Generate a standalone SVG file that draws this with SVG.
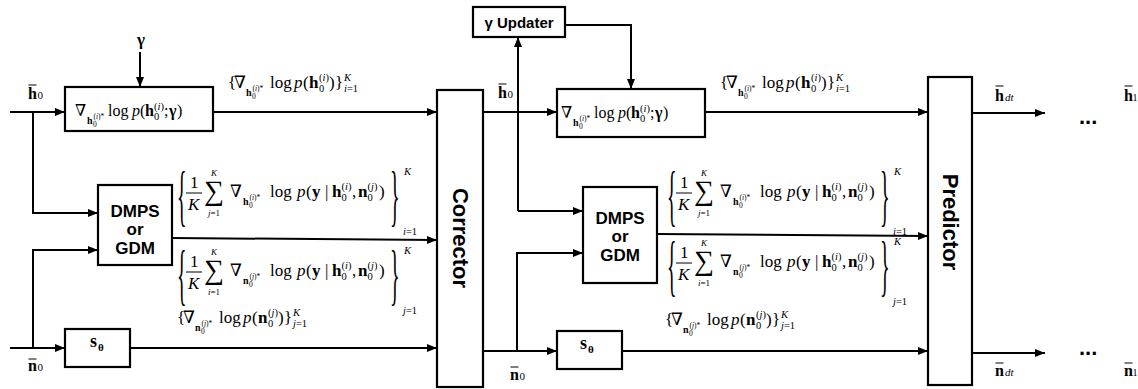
<svg xmlns="http://www.w3.org/2000/svg" xmlns:xlink="http://www.w3.org/1999/xlink" width="1138" height="389" viewBox="0 0 1138 389">
<style>
.ln{stroke:#000;stroke-width:2;fill:none}
.bx{stroke:#000;stroke-width:2.2;fill:#fff}
.fb{stroke:#000;stroke-width:1}
.m{font-family:"Liberation Serif","DejaVu Serif",serif;font-size:16px;fill:#000}
.m17{font-size:17px}
.b{font-weight:bold}
.i{font-style:italic}
.s{font-size:10.5px}
.st{font-size:10px}
.t{font-size:7.5px}
.lim{font-size:9px}
.sum{font-size:28px}
.br{font-size:20px}
.u{font-family:"Liberation Sans","Noto Sans",sans-serif;font-weight:bold;fill:#000}
</style>
<defs>
<marker id="ah" viewBox="0 0 10 10" refX="10" refY="5" markerWidth="10" markerHeight="10" markerUnits="userSpaceOnUse" orient="auto">
<path d="M0,1 L10,5 L0,9 z" fill="#000"/>
</marker>
<g id="f1">
<text class="m"><tspan x="0" y="0">∇</tspan><tspan class="b st" x="12" y="8">h</tspan><tspan class="t" x="18" y="11">0</tspan><tspan class="t" x="18.5" y="3">(<tspan class="i">i</tspan>)*</tspan><tspan x="33" y="0">log</tspan><tspan class="i" x="57">p</tspan><tspan x="65">(</tspan><tspan class="b" x="70">h</tspan><tspan class="s" x="79" y="-6">(<tspan class="i">i</tspan>)</tspan><tspan class="s" x="79" y="4">0</tspan><tspan x="89" y="0">;</tspan><tspan class="b" x="94">γ</tspan><tspan x="102">)</tspan></text>
</g>
<g id="f2">
<text class="m m17"><tspan x="0" y="0">{</tspan><tspan x="6">∇</tspan><tspan class="b st" x="18" y="8">h</tspan><tspan class="t" x="24" y="11">0</tspan><tspan class="t" x="24.5" y="3">(<tspan class="i">i</tspan>)*</tspan><tspan x="42" y="0">log</tspan><tspan class="i" x="66">p</tspan><tspan x="75">(</tspan><tspan class="b" x="81">h</tspan><tspan class="s" x="91" y="-7">(<tspan class="i">i</tspan>)</tspan><tspan class="s" x="91" y="4">0</tspan><tspan x="101" y="0">)</tspan><tspan x="107">}</tspan><tspan class="s i" x="116" y="-7">K</tspan><tspan class="s" x="116" y="4"><tspan class="i">i</tspan>=1</tspan></text>
</g>
<g id="f5">
<text class="m m17"><tspan x="0" y="0">{</tspan><tspan x="6">∇</tspan><tspan class="b st" x="18" y="8">n</tspan><tspan class="t" x="24" y="11">0</tspan><tspan class="t" x="24.5" y="3">(<tspan class="i">j</tspan>)*</tspan><tspan x="42" y="0">log</tspan><tspan class="i" x="66">p</tspan><tspan x="75">(</tspan><tspan class="b" x="81">n</tspan><tspan class="s" x="91" y="-7">(<tspan class="i">j</tspan>)</tspan><tspan class="s" x="91" y="4">0</tspan><tspan x="101" y="0">)</tspan><tspan x="107">}</tspan><tspan class="s i" x="116" y="-7">K</tspan><tspan class="s" x="116" y="4"><tspan class="i">j</tspan>=1</tspan></text>
</g>
<g id="f3">
<text class="m br" transform="translate(0,21) scale(1,3.4)">{</text>
<line class="fb" x1="9" y1="-4" x2="25" y2="-4"/>
<text class="m m17"><tspan x="13" y="-9">1</tspan><tspan class="i" x="11" y="13">K</tspan><tspan class="sum" x="27" y="3">∑</tspan><tspan x="53" y="0">∇</tspan><tspan class="b st" x="66" y="8">h</tspan><tspan class="t" x="72" y="11">0</tspan><tspan class="t" x="72.5" y="3">(<tspan class="i">i</tspan>)*</tspan><tspan x="93" y="0">log</tspan><tspan class="i" x="120">p</tspan><tspan x="129">(</tspan><tspan class="b" x="135">y</tspan><tspan x="148">|</tspan><tspan class="b" x="155">h</tspan><tspan class="s" x="164.5" y="-7">(<tspan class="i">i</tspan>)</tspan><tspan class="s" x="164.5" y="4">0</tspan><tspan x="175" y="0">,</tspan><tspan class="b" x="181">n</tspan><tspan class="s" x="190.5" y="-7">(<tspan class="i">j</tspan>)</tspan><tspan class="s" x="190.5" y="4">0</tspan><tspan x="202" y="0">)</tspan></text>
<text class="m lim" text-anchor="middle"><tspan class="i" x="37" y="-21">K</tspan><tspan x="37" y="19"><tspan class="i">j</tspan>=1</tspan></text>
<text class="m br" transform="translate(213,21) scale(1,3.4)">}</text>
<text class="m s"><tspan class="i" x="227" y="-22">K</tspan><tspan x="226" y="38"><tspan class="i">i</tspan>=1</tspan></text>
</g>
<g id="f4">
<text class="m br" transform="translate(0,21) scale(1,3.4)">{</text>
<line class="fb" x1="9" y1="-4" x2="25" y2="-4"/>
<text class="m m17"><tspan x="13" y="-9">1</tspan><tspan class="i" x="11" y="13">K</tspan><tspan class="sum" x="27" y="3">∑</tspan><tspan x="53" y="0">∇</tspan><tspan class="b st" x="66" y="8">n</tspan><tspan class="t" x="72" y="11">0</tspan><tspan class="t" x="72.5" y="3">(<tspan class="i">j</tspan>)*</tspan><tspan x="93" y="0">log</tspan><tspan class="i" x="120">p</tspan><tspan x="129">(</tspan><tspan class="b" x="135">y</tspan><tspan x="148">|</tspan><tspan class="b" x="155">h</tspan><tspan class="s" x="164.5" y="-7">(<tspan class="i">i</tspan>)</tspan><tspan class="s" x="164.5" y="4">0</tspan><tspan x="175" y="0">,</tspan><tspan class="b" x="181">n</tspan><tspan class="s" x="190.5" y="-7">(<tspan class="i">j</tspan>)</tspan><tspan class="s" x="190.5" y="4">0</tspan><tspan x="202" y="0">)</tspan></text>
<text class="m lim" text-anchor="middle"><tspan class="i" x="37" y="-21">K</tspan><tspan x="37" y="19"><tspan class="i">i</tspan>=1</tspan></text>
<text class="m br" transform="translate(213,21) scale(1,3.4)">}</text>
<text class="m s"><tspan class="i" x="227" y="-22">K</tspan><tspan x="226" y="38"><tspan class="i">j</tspan>=1</tspan></text>
</g>
</defs>

<g id="connectors" class="ln">
<path d="M10,112 H65" marker-end="url(#ah)"/>
<path d="M33,112 V213 H98" marker-end="url(#ah)"/>
<path d="M10,348 H65" marker-end="url(#ah)"/>
<path d="M33,348 V250 H98" marker-end="url(#ah)"/>
<path d="M140,52 V87" marker-end="url(#ah)"/>
<path d="M213,112 H437" marker-end="url(#ah)"/>
<path d="M172,238 L437,240" marker-end="url(#ah)"/>
<path d="M130,348 H437" marker-end="url(#ah)"/>
<path d="M483,112 H557" marker-end="url(#ah)"/>
<path d="M518,211 V37" marker-end="url(#ah)"/>
<path d="M518,211 H583" marker-end="url(#ah)"/>
<path d="M565,25 H631 V89" marker-end="url(#ah)"/>
<path d="M705,112 H928" marker-end="url(#ah)"/>
<path d="M657,234 L928,236" marker-end="url(#ah)"/>
<path d="M483,351 H557" marker-end="url(#ah)"/>
<path d="M517,351 V253 H583" marker-end="url(#ah)"/>
<path d="M622,351 H928" marker-end="url(#ah)"/>
<path d="M972,113 H1045" marker-end="url(#ah)"/>
<path d="M972,353 H1045" marker-end="url(#ah)"/>
</g>

<g id="in-h0">
<line class="fb" x1="28.5" y1="85" x2="36.5" y2="85" stroke-width="1.3"/>
<text class="m"><tspan class="b" x="28" y="99">h</tspan><tspan x="37.5" style="font-size:11px">0</tspan></text>
</g>
<g id="in-n0">
<line class="fb" x1="28.5" y1="359" x2="36.5" y2="359" stroke-width="1.3"/>
<text class="m"><tspan class="b" x="28" y="371">n</tspan><tspan x="37.5" style="font-size:11px">0</tspan></text>
</g>
<g id="in-gamma">
<text class="m b" x="141" y="45" text-anchor="middle" style="font-size:17px">γ</text>
</g>

<g id="prior1">
<rect class="bx" x="65" y="87" width="148" height="44"/>
<use href="#f1" x="75" y="116"/>
</g>
<g id="lbl-prior1"><use href="#f2" x="228" y="88"/></g>

<g id="dmps1">
<rect class="bx" x="98" y="185" width="74" height="80"/>
<text class="u" font-size="17" text-anchor="middle"><tspan x="135" y="217">DMPS</tspan><tspan x="135" y="235">or</tspan><tspan x="135" y="254">GDM</tspan></text>
</g>
<g id="lbl-dmps1-h"><use href="#f3" x="177" y="197"/></g>
<g id="lbl-dmps1-n"><use href="#f4" x="177" y="276"/></g>

<g id="score1">
<rect class="bx" x="65" y="329" width="65" height="38"/>
<text class="m b"><tspan x="90" y="347" style="font-size:18px">s</tspan><tspan x="98" y="351" style="font-size:11px">θ</tspan></text>
</g>
<g id="lbl-score1"><use href="#f5" x="177" y="323"/></g>

<g id="corrector">
<rect class="bx" x="437" y="90" width="46" height="297"/>
<text class="u" font-size="22" text-anchor="middle" dominant-baseline="central" transform="translate(460,238) rotate(90)">Corrector</text>
</g>

<g id="mid-h0">
<line class="fb" x1="498.5" y1="84" x2="506.5" y2="84" stroke-width="1.3"/>
<text class="m"><tspan class="b" x="498" y="98">h</tspan><tspan x="507.5" style="font-size:11px">0</tspan></text>
</g>
<g id="mid-n0">
<line class="fb" x1="510.5" y1="367" x2="518.5" y2="367" stroke-width="1.3"/>
<text class="m"><tspan class="b" x="510" y="380">n</tspan><tspan x="519.5" style="font-size:11px">0</tspan></text>
</g>

<g id="gamma-updater">
<rect class="bx" x="473" y="7" width="92" height="30"/>
<text class="u" font-size="15" x="519" y="28" text-anchor="middle">γ Updater</text>
</g>

<g id="prior2">
<rect class="bx" x="557" y="89" width="148" height="48"/>
<use href="#f1" x="561" y="118"/>
</g>
<g id="lbl-prior2"><use href="#f2" x="720" y="88"/></g>

<g id="dmps2">
<rect class="bx" x="583" y="187" width="74" height="96"/>
<text class="u" font-size="17" text-anchor="middle"><tspan x="620" y="224">DMPS</tspan><tspan x="620" y="242">or</tspan><tspan x="620" y="261">GDM</tspan></text>
</g>
<g id="lbl-dmps2-h"><use href="#f3" x="667" y="197"/></g>
<g id="lbl-dmps2-n"><use href="#f4" x="667" y="267"/></g>

<g id="score2">
<rect class="bx" x="557" y="331" width="65" height="38"/>
<text class="m b"><tspan x="580" y="349" style="font-size:18px">s</tspan><tspan x="588" y="353" style="font-size:11px">θ</tspan></text>
</g>
<g id="lbl-score2"><use href="#f5" x="665" y="325"/></g>

<g id="predictor">
<rect class="bx" x="928" y="77" width="44" height="308"/>
<text class="u" font-size="22" text-anchor="middle" dominant-baseline="central" transform="translate(950,222) rotate(90)">Predictor</text>
</g>

<g id="out-hdt">
<line class="fb" x1="995.5" y1="86" x2="1003.5" y2="86" stroke-width="1.3"/>
<text class="m"><tspan class="b" x="995" y="101">h</tspan><tspan class="i" x="1005" style="font-size:11px">dt</tspan></text>
</g>
<g id="out-ndt">
<line class="fb" x1="995.5" y1="363" x2="1003.5" y2="363" stroke-width="1.3"/>
<text class="m"><tspan class="b" x="995" y="376">n</tspan><tspan class="i" x="1005" style="font-size:11px">dt</tspan></text>
</g>
<g id="dots-h"><text class="u" font-size="22" x="1079" y="124">...</text></g>
<g id="dots-n"><text class="u" font-size="22" x="1079" y="355">...</text></g>
<g id="out-h1">
<line class="fb" x1="1124.5" y1="86" x2="1132.5" y2="86" stroke-width="1.3"/>
<text class="m"><tspan class="b" x="1124" y="101">h</tspan><tspan x="1132.5" style="font-size:10px">1</tspan></text>
</g>
<g id="out-n1">
<line class="fb" x1="1124.5" y1="363" x2="1132.5" y2="363" stroke-width="1.3"/>
<text class="m"><tspan class="b" x="1124" y="376">n</tspan><tspan x="1132.5" style="font-size:10px">1</tspan></text>
</g>
</svg>
